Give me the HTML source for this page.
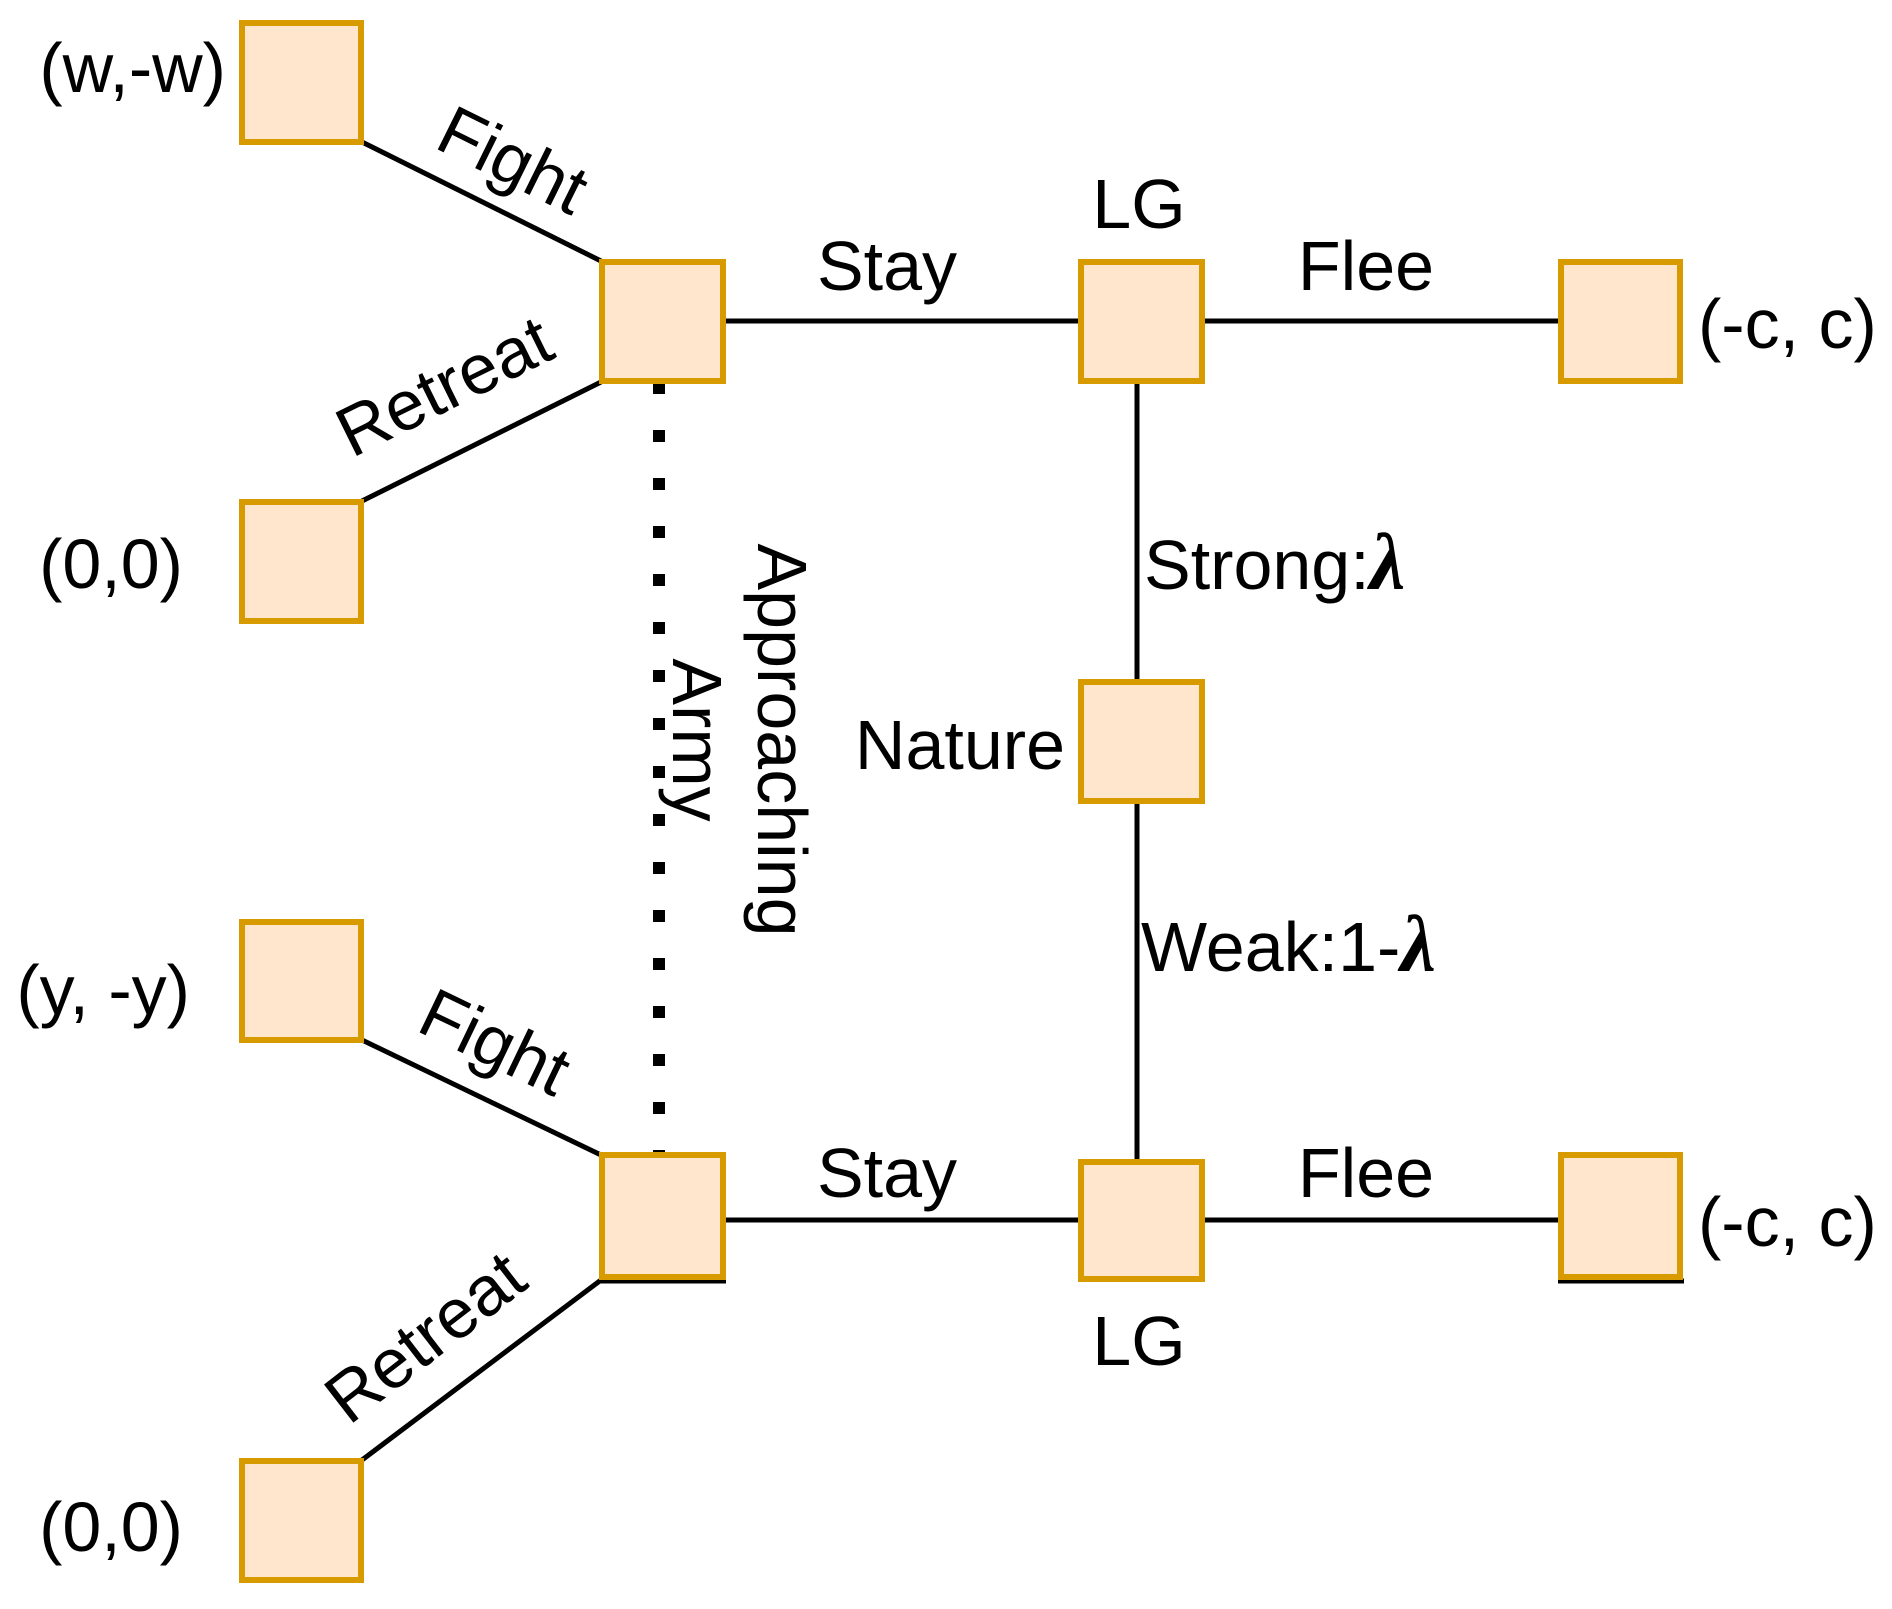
<!DOCTYPE html>
<html><head><meta charset="utf-8"><style>html,body{margin:0;padding:0;background:#fff}</style></head>
<body>
<svg width="1892" height="1604" viewBox="0 0 1892 1604" xmlns="http://www.w3.org/2000/svg" font-family="Liberation Sans, Arial, sans-serif" font-size="70" fill="#000">
<g stroke="#000" stroke-width="5" fill="none">
<line x1="362" y1="142" x2="601" y2="261"/>
<line x1="362" y1="501" x2="601" y2="382"/>
<line x1="724" y1="321" x2="1080" y2="321"/>
<line x1="1203" y1="321" x2="1560" y2="321"/>
<line x1="1137" y1="382" x2="1137" y2="681"/>
<line x1="1137" y1="801" x2="1137" y2="1161"/>
<line x1="362" y1="1040" x2="601" y2="1155"/>
<line x1="362" y1="1460" x2="601" y2="1280"/>
<line x1="724" y1="1220" x2="1080" y2="1220"/>
<line x1="1203" y1="1220" x2="1560" y2="1220"/>
<line x1="599" y1="1281" x2="726" y2="1281"/>
<line x1="1558" y1="1281" x2="1684" y2="1281"/>
<line x1="659" y1="382" x2="659" y2="1158" stroke-width="12" stroke-dasharray="12 36"/>
</g>
<g fill="#ffe6cc" stroke="#d79b00" stroke-width="6">
<rect x="242" y="23" width="119" height="119"/>
<rect x="242" y="502" width="119" height="119"/>
<rect x="602" y="262" width="121" height="119"/>
<rect x="1081" y="262" width="121" height="119"/>
<rect x="1561" y="262" width="119" height="119"/>
<rect x="1081" y="682" width="121" height="119"/>
<rect x="242" y="922" width="119" height="118"/>
<rect x="602" y="1155" width="121" height="122"/>
<rect x="1081" y="1162" width="121" height="117"/>
<rect x="1561" y="1155" width="119" height="122"/>
<rect x="242" y="1461" width="119" height="119"/>
</g>
<text x="226" y="92" text-anchor="end">(w,-w)</text>
<text x="183" y="588" text-anchor="end">(0,0)</text>
<text x="190" y="1014" text-anchor="end">(y, -y)</text>
<text x="183" y="1551" text-anchor="end">(0,0)</text>
<text x="1698" y="348">(-c, c)</text>
<text x="1698" y="1246">(-c, c)</text>
<text x="1139" y="228" text-anchor="middle">LG</text>
<text x="1139" y="1365" text-anchor="middle">LG</text>
<text x="887" y="290" text-anchor="middle">Stay</text>
<text x="1366" y="290" text-anchor="middle">Flee</text>
<text x="887" y="1197" text-anchor="middle">Stay</text>
<text x="1366" y="1197" text-anchor="middle">Flee</text>
<text x="1065" y="769" text-anchor="end">Nature</text>
<text x="1144" y="589">Strong:<tspan font-family="Liberation Serif, serif" font-style="italic" font-weight="bold" font-size="80">λ</tspan></text>
<text x="1141" y="971">Weak:1-<tspan font-family="Liberation Serif, serif" font-style="italic" font-weight="bold" font-size="80">λ</tspan></text>
<text transform="translate(782,740) rotate(90)" text-anchor="middle" dominant-baseline="central">Approaching</text>
<text transform="translate(697,740) rotate(90)" text-anchor="middle" dominant-baseline="central">Army</text>
<text transform="translate(513,160) rotate(26.3)" text-anchor="middle" dominant-baseline="central">Fight</text>
<text transform="translate(444,386) rotate(-26.3)" text-anchor="middle" dominant-baseline="central">Retreat</text>
<text transform="translate(495,1042) rotate(25.6)" text-anchor="middle" dominant-baseline="central">Fight</text>
<text transform="translate(425,1337) rotate(-37.7)" text-anchor="middle" dominant-baseline="central">Retreat</text>
</svg>
</body></html>
